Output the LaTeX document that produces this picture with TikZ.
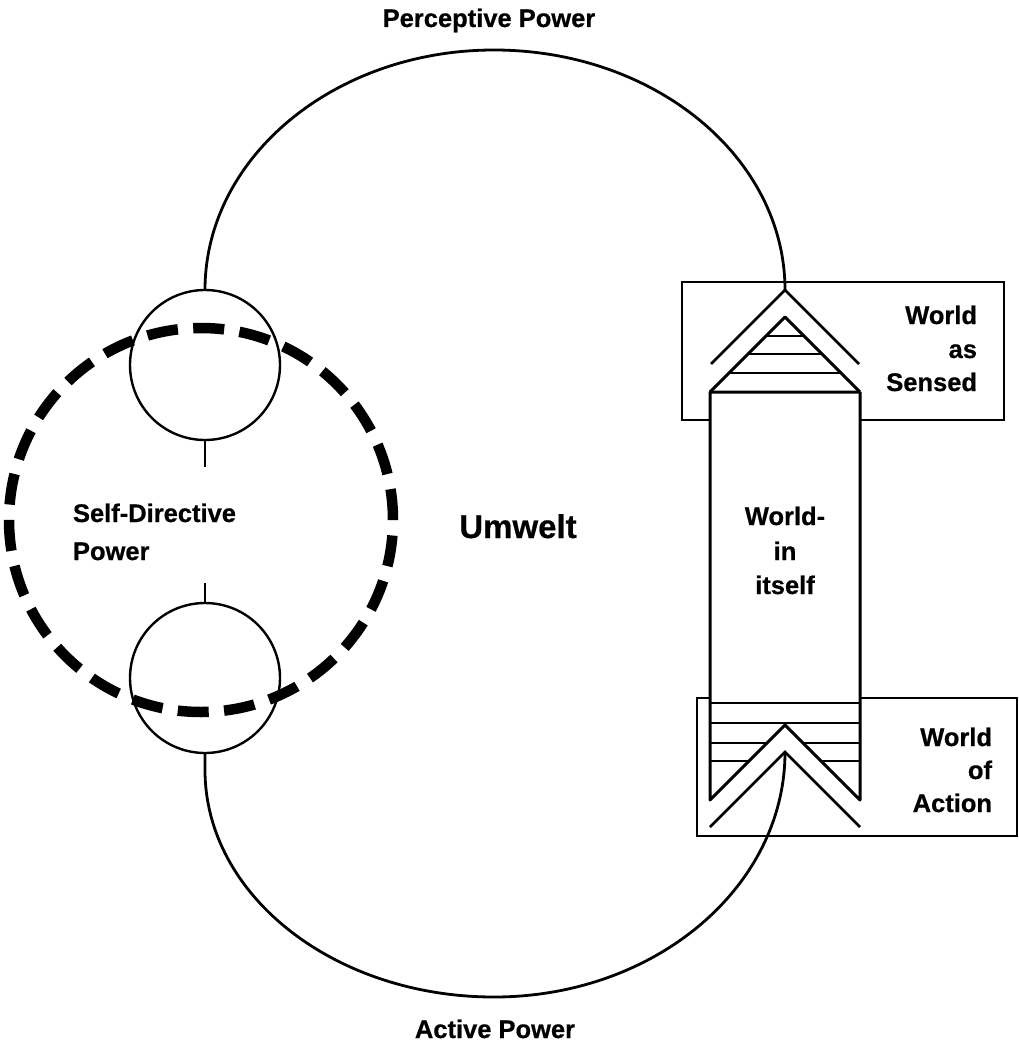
\documentclass[tikz,border=0pt]{standalone}
\usepackage{fontspec}
\setmainfont{Liberation Sans}[BoldFeatures={FakeBold=0.6}]
\begin{document}
\begin{tikzpicture}[x=1pt,y=-1pt,
  lbl/.style={font=\bfseries\fontsize{25.5}{30}\selectfont, inner sep=0pt, outer sep=0pt},
  biglbl/.style={font=\bfseries\fontsize{33}{38}\selectfont, inner sep=0pt, outer sep=0pt},
  smallcirc/.style={circle, draw, line width=2.4pt, minimum size=150pt, inner sep=0pt, outer sep=0pt},
  selfcirc/.style={circle, draw, line width=10.5pt, dash pattern=on 31pt off 15.4pt, minimum size=384pt, inner sep=0pt, outer sep=0pt},
  framebox/.style={draw, line width=1.6pt, inner sep=0pt, outer sep=0pt, anchor=north west},
  loop/.style={line width=2.8pt},
  colline/.style={line width=3pt, line join=round},
  hatch/.style={line width=2.6pt},
  chev/.style={line width=2.8pt, line join=miter}]
\useasboundingbox (0,0) rectangle (1019,1044);
\fill[white] (0,0) rectangle (1019,1044);

% frames
\node[framebox, minimum width=322pt, minimum height=138pt] (wsbox) at (682,282) {};
\node[framebox, minimum width=320pt, minimum height=138pt] (wabox) at (697,698) {};

% column (World-in-itself)
\fill[white] (710,392) -- (860,392) -- (860,800) -- (785,725) -- (710,800) -- cycle;
\draw[colline] (860,392) -- (710,392) -- (710,800) -- (785,725) -- (860,800) -- (860,392);
% upper triangle with hatching
\draw[colline] (710,392) -- (785,317) -- (860,392);
\foreach \yy in {336,354,373} {
  \draw[hatch] ({785-(\yy-317)},\yy) -- ({785+(\yy-317)},\yy);
}
% lower hatching
\draw[hatch] (710,703) -- (860,703);
\draw[hatch] (710,723) -- (860,723);
\foreach \yy in {743,761} {
  \draw[hatch] (710,\yy) -- ({785-(\yy-725)},\yy);
  \draw[hatch] ({785+(\yy-725)},\yy) -- (860,\yy);
}
% chevrons
\coordinate (wsapex) at (785,290);
\coordinate (waapex) at (785,752);
\draw[chev] (711,364) -- (wsapex) -- (859,364);
\draw[chev] (710,827) -- (waapex) -- (860,827);

% small circles
\node[smallcirc] (perc) at (205,365) {};
\node[smallcirc] (act) at (205,678) {};
\draw[loop] (perc.south) -- ++(0,27);
\draw[loop] (act.north) -- ++(0,-20);

% loops
\draw[loop] (perc.north) .. controls (205,157.4) and (334.4,50) .. (494,50)
  .. controls (654.7,50) and (785,157.4) .. (wsapex);
\draw[loop] (act.south) -- (205,770) .. controls (205,895.4) and (334.4,997) .. (494,997)
  .. controls (654.7,997) and (785,887.3) .. (waapex);

% self-directive dashed circle
\node[selfcirc] (self) at (201,520) {};

% labels
\node[lbl, anchor=base] (lperc) at (489,27) {Perceptive Power};
\node[lbl, anchor=base] (lact) at (495,1038) {Active Power};
\node[biglbl, anchor=base] (lumw) at (518,538) {Umwelt};
\node[lbl, anchor=base west] (lsd1) at (73,522) {Self-Directive};
\node[lbl, anchor=base west] (lsd2) at (73,560) {Power};
\node[lbl, anchor=base east] (lws1) at (977,324) {World};
\node[lbl, anchor=base east] (lws2) at (977,358) {as};
\node[lbl, anchor=base east] (lws3) at (977,391) {Sensed};
\node[lbl, anchor=base east] (lwa1) at (992,746) {World};
\node[lbl, anchor=base east] (lwa2) at (992,779) {of};
\node[lbl, anchor=base east] (lwa3) at (992,812) {Action};
\node[lbl, anchor=base] (lwi1) at (785,525) {World-};
\node[lbl, anchor=base] (lwi2) at (785,560) {in};
\node[lbl, anchor=base] (lwi3) at (785,594) {itself};
\end{tikzpicture}
\end{document}
